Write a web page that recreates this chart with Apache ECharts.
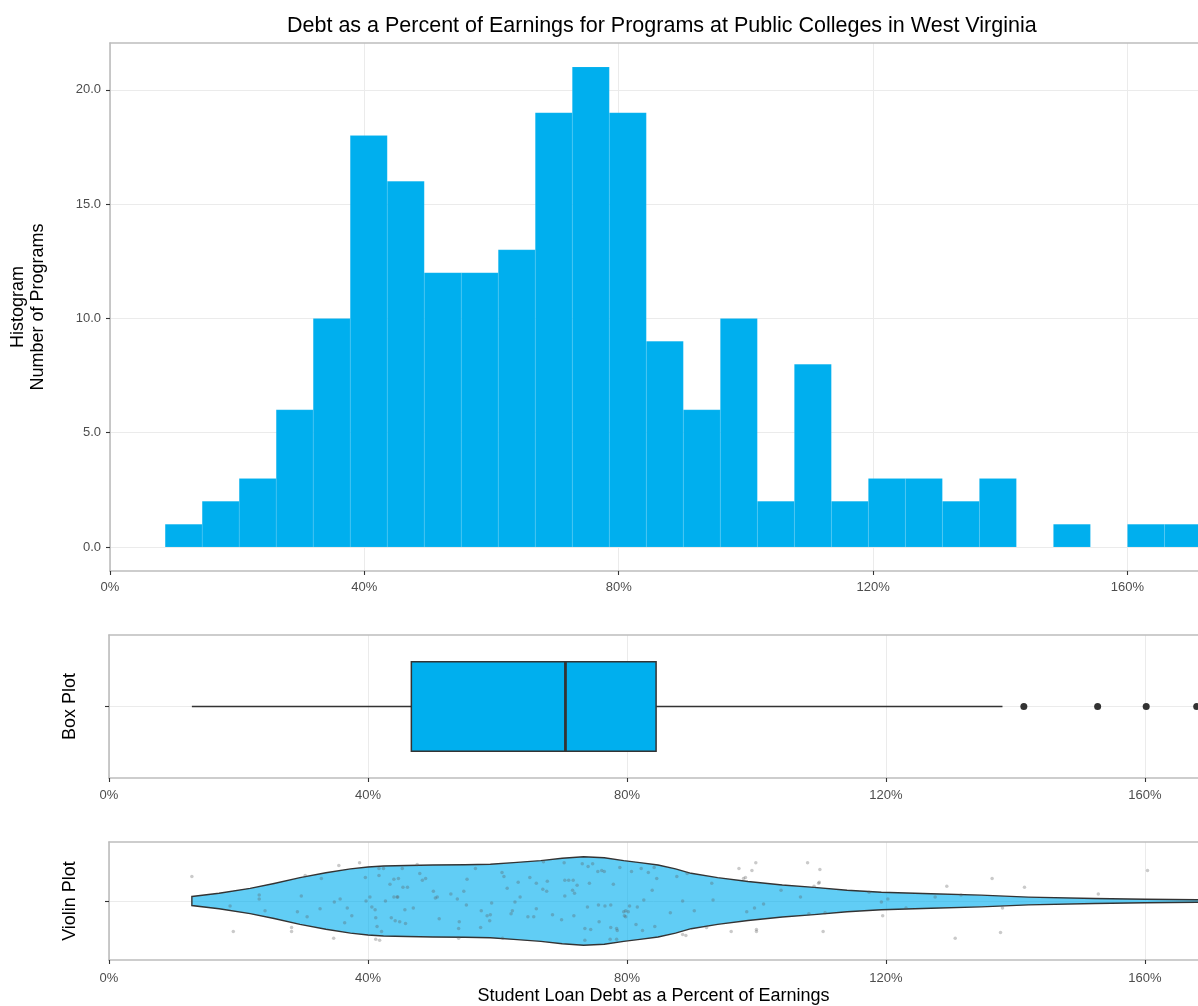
<!DOCTYPE html>
<html>
<head>
<meta charset="utf-8">
<title>Debt as a Percent of Earnings</title>
<script src="https://cdn.jsdelivr.net/npm/echarts@6/dist/echarts.min.js"></script>
<style>html, body { margin: 0; background: #fff; }</style>
</head>
<body>
<div id="main" style="width:1198px;height:1006px;"></div>
<script>
// histogram: lower bin edges (%), bin width, program counts
var binWidth = 5.82
var binStart = [8.68, 14.50, 20.32, 26.14, 31.96, 37.78, 43.60, 49.42, 55.24, 61.06,
  66.88, 72.70, 78.52, 84.34, 90.16, 95.98, 101.80, 107.62, 113.44, 119.26,
  125.08, 130.90, 136.72, 142.54, 148.36, 154.18, 160.00, 165.82]
var binCount = [1, 2, 3, 6, 10, 18, 16, 12, 12, 13,
  19, 21, 19, 9, 6, 10, 2, 8, 2, 3,
  3, 2, 3, 0, 1, 0, 1, 1]
var histTicks = [0, 5, 10, 15, 20]

// box plot: min whisker, Q1, median, Q3, max whisker; outliers
var boxStats = [12.8, 46.7, 70.5, 84.5, 138.0]
var boxOutliers = [141.3, 152.7, 160.2, 168.0]

// violin outline: x (%) and relative density (max = 1)
var violinX = [12.8, 17, 21.8, 25.5, 29.5, 33.5, 37.3, 40, 42.4, 46, 50, 55, 58.9, 62.5,
  66.7, 70, 73.3, 76.5, 79.5, 82, 84.8, 87.5, 89.9, 94, 98.7, 104, 108.9, 114, 119.3,
  127, 134.7, 142, 152.2, 160, 168, 172]
var violinDensity = [0.103, 0.176, 0.286, 0.396, 0.527, 0.637, 0.725, 0.769, 0.791, 0.802,
  0.813, 0.820, 0.831, 0.868, 0.912, 0.967, 1, 0.978, 0.912, 0.868, 0.813, 0.725, 0.626,
  0.527, 0.44, 0.363, 0.308, 0.242, 0.198, 0.165, 0.132, 0.088, 0.055, 0.04, 0.028, 0.022]

// jittered programs: x (%) and vertical jitter
var jitterX = [12.8, 19.2, 18.7, 23.2, 23.2, 24.1, 28.2, 28.2, 29.1, 29.7, 30.3, 30.6, 32.6, 32.8, 34.7,
  34.8, 35.5, 35.7, 36.4, 36.8, 37.5, 38.7, 39.6, 39.7, 40.3, 40.6, 41.1, 41.2, 41.2, 41.4, 41.7, 41.7,
  41.8, 42.1, 42.4, 42.7, 43.4, 43.6, 44.0, 44.0, 44.2, 44.5, 44.7, 44.9,
  45.3, 44.6, 45.4, 46.1, 45.7, 45.8, 47.0, 47.6, 48.0, 48.4, 48.9, 50.1, 50.4, 50.7, 51.0, 52.8, 53.8,
  54.1, 54.0, 54.0, 54.8, 55.2, 55.3, 56.6, 57.4, 57.5, 58.4, 58.9, 58.8, 59.1, 60.7, 61.0, 60.8, 61.5,
  62.1, 62.3, 62.7, 63.2, 63.5, 64.7, 65.0, 65.6, 66.0, 66.0, 67.0, 67.1, 67.7, 67.6, 68.5, 69.9, 70.3,
  70.4, 70.4, 71.0, 71.7, 71.6, 71.9, 71.8, 72.3, 73.1, 73.5, 73.5, 73.9, 74.0, 74.2, 74.4, 74.7, 75.6,
  75.7, 75.5, 76.1, 76.5, 76.6, 77.5, 77.5, 77.4, 77.9, 78.4, 78.5, 78.4, 78.9, 79.5, 79.6, 79.8, 80.2,
  79.8, 80.4, 80.7, 81.4, 81.6, 82.2, 82.4, 82.6, 83.3, 83.9, 84.2, 84.3, 84.6, 86.7, 87.7, 88.6, 88.6,
  89.1, 89.3,
  90.4, 92.3, 93.1, 93.3, 96.1, 97.3, 98.0, 98.3, 98.5, 99.3, 99.7, 99.9, 100.0, 100.0, 101.1, 103.8,
  106.8, 107.9, 108.1, 108.9, 109.6, 109.7, 109.8, 110.3, 110.6, 117.4, 119.3, 119.5, 120.3, 123.1,
  127.6, 129.4, 130.7, 131.6,
  136.4, 138.0, 137.7, 141.4, 152.8, 160.4]
var jitterY = [0.25, -0.31, -0.05, 0.06, 0.02, -0.10, -0.27, -0.31, -0.11, 0.05, 0.26, -0.16, -0.08, 0.23, -0.38,
  -0.01, 0.36, 0.02, -0.22, -0.07, -0.15, 0.39, 0.24, 0.00, 0.04, -0.06, -0.09, -0.17, -0.39, -0.26, 0.33, 0.26,
  -0.40, -0.31, 0.33, 0.00, 0.17, -0.17, 0.22, 0.04, -0.20, 0.04, 0.23, -0.21,
  0.33, 0.04, 0.14, 0.14, -0.09, -0.23, -0.07, 0.37, 0.28, 0.21, 0.23, 0.10, 0.03, 0.04, -0.18, 0.07, 0.02,
  -0.21, -0.28, -0.38, 0.10, -0.04, 0.22, 0.33, -0.27, -0.10, -0.15, -0.14, -0.20, -0.02, 0.29, 0.25, -0.38, 0.13,
  -0.13, -0.10, -0.01, 0.19, 0.04, -0.16, 0.24, -0.16, 0.18, -0.08, 0.12, 0.40, 0.20, 0.10, -0.14, -0.19, 0.39,
  0.05, 0.21, 0.21, 0.21, 0.11, 0.08, -0.15, 0.16, 0.38, -0.28, -0.40, -0.06, 0.35, 0.18, -0.29, 0.38, -0.04,
  -0.21, 0.30, 0.31, 0.30, -0.05, -0.04, -0.27, -0.39, 0.17, -0.28, -0.30, -0.39, 0.34, -0.11, -0.15, -0.10, -0.11,
  -0.16, -0.05, 0.30, -0.24, -0.06, 0.33, -0.30, 0.01, 0.29, 0.11, 0.34, -0.26, 0.23, -0.12, 0.25, 0.00, -0.34,
  -0.35, 0.28,
  -0.10, -0.27, 0.18, 0.01, -0.31, 0.33, 0.23, 0.24, -0.11, 0.31, -0.07, 0.39, -0.29, -0.31, -0.03, 0.11,
  0.04, 0.39, -0.13, 0.15, 0.18, 0.19, 0.32, -0.31, -0.12, 0.09, -0.01, -0.15, 0.02, -0.07,
  0.04, 0.15, -0.38, 0.06,
  0.23, -0.07, -0.32, 0.14, 0.07, 0.31]

var xTicksPct = [0, 40, 80, 120, 160]

var FONT = 'Liberation Sans, Arial, Helvetica, sans-serif'
var BLUE = '#00AFEE'
var GRID_LINE = '#ebebeb'
var BORDER = '#bdbdbd'
var TICK = { color: '#333', width: 1.1 }

var myChart = echarts.init(document.getElementById('main'))

function xAxisFor(gridIndex, max, margin, extra) {
  var ax = {
    type: 'value', gridIndex: gridIndex, min: 0, max: max,
    axisLine: { show: true, onZero: false, lineStyle: { color: BORDER, width: 1.6 } },
    axisTick: { show: true, length: 4, customValues: xTicksPct, lineStyle: TICK },
    axisLabel: { customValues: xTicksPct, formatter: '{value}%', color: '#4d4d4d', fontSize: 13, fontFamily: FONT, margin: margin },
    splitLine: { show: true, lineStyle: { color: GRID_LINE, width: 1 } }
  }
  return Object.assign(ax, extra || {})
}

// top edge of each panel (the right edge runs off the picture)
function topEdge(gridIndex) {
  return {
    type: 'value', gridIndex: gridIndex, position: 'top', min: 0, max: 1,
    axisLine: { show: true, onZero: false, lineStyle: { color: BORDER, width: 1.6 } },
    axisTick: { show: false }, axisLabel: { show: false }, splitLine: { show: false }
  }
}

function yCatAxis(gridIndex, name) {
  return {
    type: 'value', gridIndex: gridIndex, min: 0.4, max: 1.6,
    name: name, nameLocation: 'middle', nameRotate: 90, nameGap: 30,
    nameTextStyle: { fontSize: 18, color: '#000', fontFamily: FONT },
    axisLine: { show: true, onZero: false, lineStyle: { color: BORDER, width: 1.6 } },
    axisTick: { show: true, length: 4, customValues: [1], lineStyle: TICK },
    axisLabel: { show: false },
    splitLine: { show: true, lineStyle: { color: GRID_LINE, width: 1 } }
  }
}

var histData = binStart.map(function (s, i) { return [s, s + binWidth, binCount[i]] })
var jitterData = jitterX.map(function (x, i) { return [x, 1 + jitterY[i]] })

var option = {
  animation: false,
  backgroundColor: '#fff',
  title: {
    text: 'Debt as a Percent of Earnings for Programs at Public Colleges in West Virginia',
    left: 282, top: 10,
    textStyle: { fontSize: 21.5, fontWeight: 'normal', color: '#000', fontFamily: FONT }
  },
  grid: [
    { left: 109, right: 0, top: 43, height: 528 },
    { left: 109, right: 0, top: 635, height: 143 },
    { left: 109, right: 0, top: 842, height: 120 }
  ],
  xAxis: [
    xAxisFor(0, 171.1, 10),
    xAxisFor(1, 168.2, 11),
    xAxisFor(2, 168.2, 12, {
      name: 'Student Loan Debt as a Percent of Earnings', nameLocation: 'middle', nameGap: 27,
      nameTextStyle: { fontSize: 18, color: '#000', fontFamily: FONT }
    }),
    topEdge(0), topEdge(1), topEdge(2)
  ],
  yAxis: [
    {
      type: 'value', gridIndex: 0, min: -1.05, max: 22.05,
      name: 'Histogram\nNumber of Programs', nameLocation: 'middle', nameRotate: 90, nameGap: 62,
      nameTextStyle: { fontSize: 18, color: '#000', fontFamily: FONT, lineHeight: 20 },
      axisLine: { show: true, onZero: false, lineStyle: { color: BORDER, width: 1.6 } },
      axisTick: { show: true, length: 4, customValues: histTicks, lineStyle: TICK },
      axisLabel: {
        customValues: histTicks, color: '#4d4d4d', fontSize: 13, fontFamily: FONT, margin: 9,
        formatter: function (v) { return Number(v).toFixed(1) }
      },
      splitLine: { show: true, lineStyle: { color: GRID_LINE, width: 1 } }
    },
    yCatAxis(1, 'Box Plot'),
    yCatAxis(2, 'Violin Plot')
  ],
  series: [
    {
      type: 'custom', name: 'Histogram', xAxisIndex: 0, yAxisIndex: 0, clip: true,
      encode: { x: [0, 1], y: 2 },
      data: histData,
      renderItem: function (params, api) {
        if (!api.value(2)) return null
        var p0 = api.coord([api.value(0), 0])
        var p1 = api.coord([api.value(1), api.value(2)])
        return {
          type: 'rect',
          shape: { x: p0[0], y: p1[1], width: p1[0] - p0[0], height: p0[1] - p1[1] },
          style: { fill: BLUE, stroke: 'rgba(255,255,255,0.15)', lineWidth: 0.6 }
        }
      }
    },
    {
      type: 'custom', name: 'Box', xAxisIndex: 1, yAxisIndex: 1,
      encode: { x: [0, 1, 2, 3, 4], y: 5 },
      data: [boxStats.concat([1])],
      renderItem: function (params, api) {
        var y = api.value(5)
        var half = api.size([0, 0.375])[1]
        var pMin = api.coord([api.value(0), y])
        var pQ1 = api.coord([api.value(1), y])
        var pMed = api.coord([api.value(2), y])
        var pQ3 = api.coord([api.value(3), y])
        var pMax = api.coord([api.value(4), y])
        var line = { stroke: '#333', lineWidth: 1.5 }
        return {
          type: 'group',
          children: [
            { type: 'line', shape: { x1: pMin[0], y1: pMin[1], x2: pQ1[0], y2: pQ1[1] }, style: line },
            { type: 'line', shape: { x1: pQ3[0], y1: pQ3[1], x2: pMax[0], y2: pMax[1] }, style: line },
            { type: 'rect', shape: { x: pQ1[0], y: pQ1[1] - half, width: pQ3[0] - pQ1[0], height: half * 2 },
              style: { fill: BLUE, stroke: '#333', lineWidth: 1.5 } },
            { type: 'line', shape: { x1: pMed[0], y1: pMed[1] - half, x2: pMed[0], y2: pMed[1] + half },
              style: { stroke: '#333', lineWidth: 2.8 } }
          ]
        }
      }
    },
    {
      type: 'scatter', name: 'Outliers', xAxisIndex: 1, yAxisIndex: 1,
      data: boxOutliers.map(function (v) { return [v, 1] }),
      symbolSize: 7, itemStyle: { color: '#333', opacity: 1 }, silent: true
    },
    {
      type: 'custom', name: 'Violin', xAxisIndex: 2, yAxisIndex: 2, clip: true,
      encode: { x: 0, y: 1 },
      data: [[violinX[0], 1]],
      renderItem: function (params, api) {
        var upper = [], lower = []
        for (var i = 0; i < violinX.length; i++) {
          upper.push(api.coord([violinX[i], 1 + violinDensity[i] * 0.45]))
          lower.push(api.coord([violinX[i], 1 - violinDensity[i] * 0.45]))
        }
        var pts = upper.concat(lower.reverse())
        return {
          type: 'polygon',
          shape: { points: pts, smooth: 0 },
          style: { fill: 'rgba(0,174,239,0.62)', stroke: '#333', lineWidth: 1.4 }
        }
      }
    },
    {
      type: 'scatter', name: 'Programs', xAxisIndex: 2, yAxisIndex: 2,
      data: jitterData, symbolSize: 3.5, z: 5,
      itemStyle: { color: 'rgba(90,90,90,0.4)' }, silent: true
    }
  ]
}

myChart.setOption(option)
</script>
</body>
</html>
